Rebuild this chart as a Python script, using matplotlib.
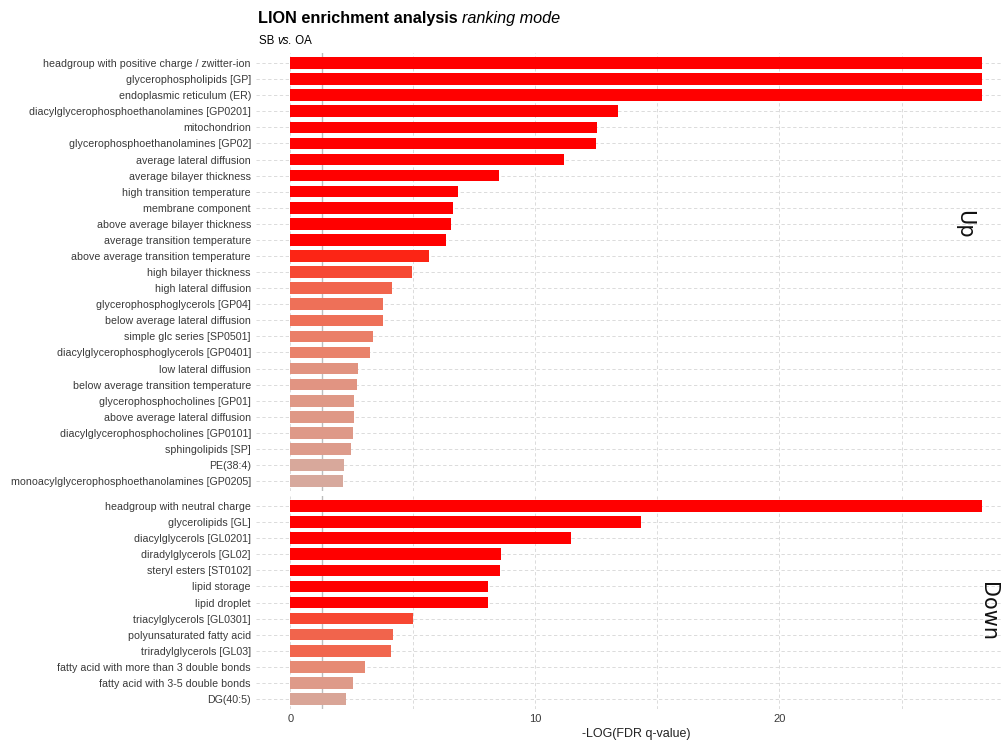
import matplotlib
matplotlib.use("Agg")
import matplotlib.pyplot as plt
import numpy as np
from matplotlib.colors import LinearSegmentedColormap, Normalize

# ---- data -------------------------------------------------------------
up_terms = [
    "headgroup with positive charge / zwitter-ion",
    "glycerophospholipids [GP]",
    "endoplasmic reticulum (ER)",
    "diacylglycerophosphoethanolamines [GP0201]",
    "mitochondrion",
    "glycerophosphoethanolamines [GP02]",
    "average lateral diffusion",
    "average bilayer thickness",
    "high transition temperature",
    "membrane component",
    "above average bilayer thickness",
    "average transition temperature",
    "above average transition temperature",
    "high bilayer thickness",
    "high lateral diffusion",
    "glycerophosphoglycerols [GP04]",
    "below average lateral diffusion",
    "simple glc series [SP0501]",
    "diacylglycerophosphoglycerols [GP0401]",
    "low lateral diffusion",
    "below average transition temperature",
    "glycerophosphocholines [GP01]",
    "above average lateral diffusion",
    "diacylglycerophosphocholines [GP0101]",
    "sphingolipids [SP]",
    "PE(38:4)",
    "monoacylglycerophosphoethanolamines [GP0205]",
]
up_values = [28.27, 28.27, 28.27, 13.4, 12.54, 12.5, 11.19, 8.53, 6.85, 6.63,
             6.56, 6.36, 5.65, 4.97, 4.14, 3.77, 3.77, 3.36, 3.27, 2.75,
             2.72, 2.60, 2.60, 2.56, 2.49, 2.20, 2.16]

down_terms = [
    "headgroup with neutral charge",
    "glycerolipids [GL]",
    "diacylglycerols [GL0201]",
    "diradylglycerols [GL02]",
    "steryl esters [ST0102]",
    "lipid storage",
    "lipid droplet",
    "triacylglycerols [GL0301]",
    "polyunsaturated fatty acid",
    "triradylglycerols [GL03]",
    "fatty acid with more than 3 double bonds",
    "fatty acid with 3-5 double bonds",
    "DG(40:5)",
]
down_values = [28.27, 14.33, 11.48, 8.61, 8.57, 8.08, 8.08, 4.99, 4.18, 4.12,
               3.04, 2.55, 2.26]

panel_names = ["Up", "Down"]
x_ticks = [0, 10, 20]
threshold = -np.log10(0.05)

# ---- style ------------------------------------------------------------
plt.rcParams["font.family"] = ["Liberation Sans", "DejaVu Sans"]
W, H = 1004, 745
fig = plt.figure(figsize=(W / 100, H / 100), dpi=100)

fill_cmap = LinearSegmentedColormap.from_list(
    "lion_fill",
    [(0.00, "#d5b0a6"), (0.10, "#dc9d8d"), (0.27, "#e8866f"),
     (0.40, "#ee7259"), (0.66, "#f5503a"), (0.83, "#fc2a18"), (1.00, "#ff0000")])
fill_norm = Normalize(vmin=2.0, vmax=6.3, clip=True)

x_left_px, x_right_px = 256, 1004
x0_px, px_per_unit = 290.5, 24.45
xlim = ((x_left_px - x0_px) / px_per_unit, (x_right_px - x0_px) / px_per_unit)
row_px = 16.08


def make_axes(top_px, n):
    h_px = (n - 1 + 1.2) * row_px
    return fig.add_axes([x_left_px / W, 1 - (top_px + h_px) / H,
                         (x_right_px - x_left_px) / W, h_px / H])


ax_up = make_axes(53.4, len(up_terms))
ax_dn = make_axes(496.4, len(down_terms))

grid_kw = dict(color="#d6d6d6", lw=0.6, ls=(0, (4, 3)), zorder=0)

for ax, terms, vals in [(ax_up, up_terms, up_values), (ax_dn, down_terms, down_values)]:
    pos = np.arange(len(terms))
    ax.set_xlim(*xlim)
    ax.set_ylim(len(terms) - 1 + 0.6, -0.6)
    for y in pos:
        ax.axhline(y, **grid_kw)
    for xv in np.arange(0, 30, 5):
        ax.axvline(xv, **grid_kw)
    ax.axvline(threshold, color="#bdbdbd", lw=1.0, zorder=1)
    ax.barh(pos, vals, height=0.72, color=fill_cmap(fill_norm(np.array(vals))),
            zorder=2)
    ax.set_yticks(pos)
    ax.set_yticklabels(terms, fontsize=7.65, color="#3a3a3a")
    ax.tick_params(axis="y", length=0, pad=3.6)
    ax.set_xticks(x_ticks)
    for s in ax.spines.values():
        s.set_visible(False)

ax_up.tick_params(axis="x", length=0, labelbottom=False)
ax_dn.tick_params(axis="x", length=0, labelsize=8, labelcolor="#3a3a3a", pad=4)
ax_dn.set_xticklabels([str(t) for t in x_ticks])
fig.text(636 / W, 1 - 734 / H, "-LOG(FDR q-value)", ha="center", va="center",
         fontsize=9, color="#222222")

# facet strip labels
fig.text(964 / W, 1 - 224 / H, panel_names[0], rotation=-90, ha="center",
         va="center", fontsize=15, family=["DejaVu Sans"], color="#111111")
fig.text(988 / W, 1 - 612 / H, panel_names[1], rotation=-90, ha="center",
         va="center", fontsize=15, family=["DejaVu Sans"], color="#111111")

# title and subtitle, mixing bold/italic pieces
renderer = fig.canvas.get_renderer()


def run_text(x_px, y_px, pieces, size):
    x = x_px
    for txt, kw in pieces:
        t = fig.text(x / W, 1 - y_px / H, txt, ha="left", va="baseline",
                     fontsize=size, color="black", **kw)
        bb = t.get_window_extent(renderer=renderer)
        x = bb.x1


run_text(258, 23, [("LION enrichment analysis ", dict(weight="bold")),
                   ("ranking mode", dict(style="italic"))], 11.7)
run_text(259, 44, [("SB ", {}), ("vs.", dict(style="italic")), (" OA", {})], 8.3)

fig.savefig("out.png", dpi=100)
